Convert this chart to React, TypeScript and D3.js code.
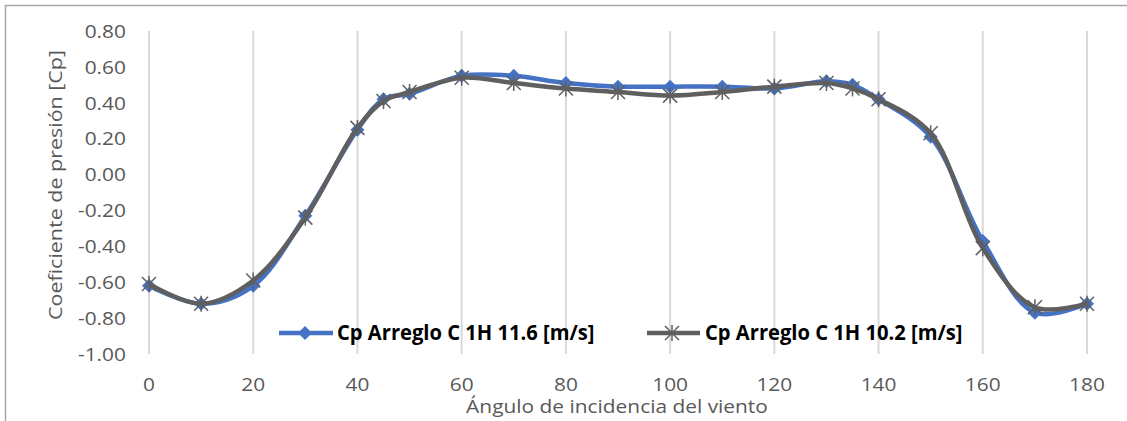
import React from "react";
import * as d3 from "d3";

const angles = [0, 10, 20, 30, 40, 45, 50, 60, 70, 80, 90, 100, 110, 120, 130, 135, 140, 150, 160, 170, 180];
const cp116 = [-0.62, -0.72, -0.62, -0.23, 0.25, 0.42, 0.45, 0.55, 0.55, 0.51, 0.49, 0.49, 0.49, 0.48, 0.52, 0.50, 0.42, 0.21, -0.37, -0.77, -0.72];
const cp102 = [-0.61, -0.72, -0.59, -0.24, 0.26, 0.41, 0.46, 0.54, 0.51, 0.48, 0.46, 0.44, 0.46, 0.49, 0.51, 0.48, 0.42, 0.23, -0.41, -0.74, -0.72];
const xTicks = [0, 20, 40, 60, 80, 100, 120, 140, 160, 180];
const yTicks = [-1.0, -0.8, -0.6, -0.4, -0.2, 0, 0.2, 0.4, 0.6, 0.8];
const seriesNames = ["Cp Arreglo C 1H 11.6 [m/s]", "Cp Arreglo C 1H 10.2 [m/s]"];
const xTitle = "Ángulo de incidencia del viento";
const yTitle = "Coeficiente de presión [Cp]";

const BLUE = "#4472C4";
const GRAY = "#5f5f5f";
const FONT = "'Open Sans', 'Noto Sans', sans-serif";

const x = d3.scaleLinear().domain([0, 180]).range([149, 1087]);
const y = d3.scaleLinear().domain([-1, 0.8]).range([354, 31]);

function Diamond({ cx, cy, s = 7 }: { cx: number; cy: number; s?: number }) {
  return <path d={`M${cx},${cy - s}L${cx + s},${cy}L${cx},${cy + s}L${cx - s},${cy}Z`} fill={BLUE} />;
}
function Star({ cx, cy, s = 7 }: { cx: number; cy: number; s?: number }) {
  return (
    <g stroke={GRAY} strokeWidth={1.5}>
      <line x1={cx - s} y1={cy - s} x2={cx + s} y2={cy + s} />
      <line x1={cx - s} y1={cy + s} x2={cx + s} y2={cy - s} />
      <line x1={cx} y1={cy - s - 1} x2={cx} y2={cy + s + 1} />
    </g>
  );
}

function Txt({ tx, ty, anchor, size, weight, fill, children, rotate, sx = 1.13 }: any) {
  return (
    <g transform={`translate(${tx},${ty})${rotate ? ` rotate(${rotate})` : ""} scale(${sx},1)`}>
      <text textAnchor={anchor} fontSize={size} fontWeight={weight} fill={fill} fontFamily={FONT}>
        {children}
      </text>
    </g>
  );
}

export default function App() {
  const line = d3
    .line<number>()
    .x((_, i) => x(angles[i]))
    .y((d) => y(d))
    .curve(d3.curveCatmullRom.alpha(0.5));
  return (
    <svg width={1127} height={421} style={{ position: "absolute", left: 0, top: 0 }}>
      <rect x={0} y={0} width={1127} height={421} fill="#fff" />
      <path d="M5.5,425V5.5H1130" fill="none" stroke="#a6a6a6" strokeWidth={1.5} />
      {xTicks.map((t) => (
        <line key={t} x1={x(t)} x2={x(t)} y1={y(0.8)} y2={y(-1)} stroke="#d9d9d9" strokeWidth={2} />
      ))}
      {yTicks.map((t) => (
        <Txt key={t} tx={126} ty={y(t) + 6.8} anchor="end" size={18.5} fill="#595959">
          {t.toFixed(2)}
        </Txt>
      ))}
      {xTicks.map((t) => (
        <Txt key={t} tx={x(t)} ty={391} anchor="middle" size={18.5} fill="#595959">
          {t}
        </Txt>
      ))}
      <Txt tx={617} ty={413} anchor="middle" size={18.5} fill="#595959">
        {xTitle}
      </Txt>
      <Txt tx={62} ty={185} anchor="middle" size={19} fill="#595959" rotate={-90}>
        {yTitle}
      </Txt>
      <path d={line(cp116) || ""} fill="none" stroke={BLUE} strokeWidth={4.5} strokeLinejoin="round" />
      {cp116.map((v, i) => (
        <Diamond key={i} cx={x(angles[i])} cy={y(v)} />
      ))}
      <path d={line(cp102) || ""} fill="none" stroke={GRAY} strokeWidth={4.5} strokeLinejoin="round" />
      {cp102.map((v, i) => (
        <Star key={i} cx={x(angles[i])} cy={y(v)} />
      ))}
      {/* legend */}
      <line x1={279} x2={333} y1={333} y2={333} stroke={BLUE} strokeWidth={4.5} />
      <Diamond cx={305} cy={333} />
      <Txt tx={337} ty={340} anchor="start" size={21} weight="bold" fill="#000" sx={0.96}>
        {seriesNames[0]}
      </Txt>
      <line x1={647} x2={700} y1={333} y2={333} stroke={GRAY} strokeWidth={4.5} />
      <Star cx={672} cy={333} />
      <Txt tx={705} ty={340} anchor="start" size={21} weight="bold" fill="#000" sx={0.96}>
        {seriesNames[1]}
      </Txt>
    </svg>
  );
}
